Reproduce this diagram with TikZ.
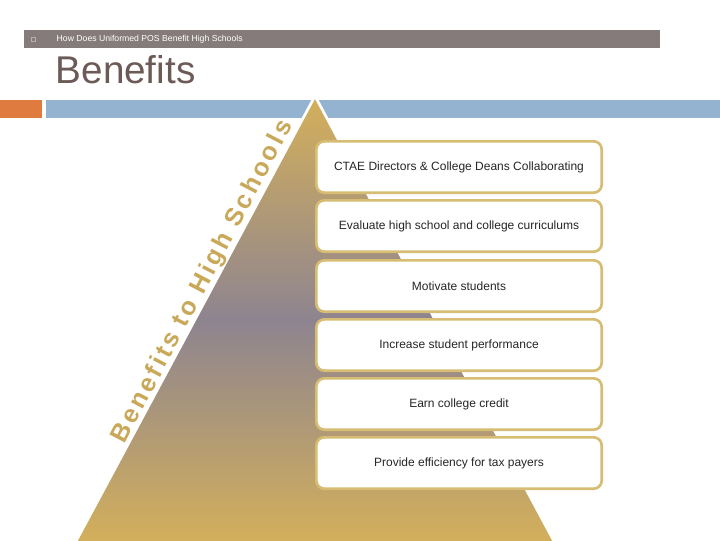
\documentclass[tikz,border=0pt]{standalone}
\usepackage{fontspec}
\setmainfont{Liberation Sans}
\newfontfamily\spaced[LetterSpace=12]{Liberation Sans}
\definecolor{hdr}{HTML}{857B7B}
\definecolor{ttl}{HTML}{6B5A55}
\definecolor{org}{HTML}{E07B3F}
\definecolor{blu}{HTML}{93B3D1}
\definecolor{gld}{HTML}{D4B05A}
\definecolor{mid}{HTML}{8E8490}
\definecolor{bdr}{HTML}{D6BD73}
\definecolor{rot}{HTML}{C9A85A}
\begin{document}
\begin{tikzpicture}[x=0.75pt,y=-0.75pt,
  item/.style={draw=bdr,line width=2pt,fill=white,rounded corners=6pt,minimum width=214pt,minimum height=38.5pt,font=\fontsize{9pt}{11pt}\selectfont,text=black!85,anchor=north west}]
\useasboundingbox (0,0) rectangle (720,540);
\fill[white] (0,0) rectangle (720,540);
\fill[hdr] (24,30) rectangle (660,48);
\draw[hdr!60!white,line width=0.4pt] (31,37) rectangle (35,41);
\node[anchor=west,text=white,font=\fontsize{6.5pt}{7pt}\selectfont] (hd) at (52,39) {How Does Uniformed POS Benefit High Schools};
\node[anchor=west,text=ttl,font=\fontsize{29pt}{32pt}\selectfont] (tt) at (51,70) {Benefits};
\fill[org] (0,100) rectangle (42,118);
\fill[blu] (46,100) rectangle (720,118);
\path[draw=white,line width=2pt,top color=gld,bottom color=gld,middle color=mid] (315,96) -- (74,545) -- (556,545) -- cycle;
\node[rotate=62.3,text=rot,font=\spaced\bfseries\fontsize{19pt}{22pt}\selectfont] (rt) at (203,282) {Benefits to High Schools};
\node[item] (b1) at (315,140) {CTAE Directors \& College Deans Collaborating};
\node[item] (b2) at (315,199) {Evaluate high school and college curriculums};
\node[item] (b3) at (315,259) {Motivate students};
\node[item] (b4) at (315,318) {Increase student performance};
\node[item] (b5) at (315,377) {Earn college credit};
\node[item] (b6) at (315,436) {Provide efficiency for tax payers};
\end{tikzpicture}
\end{document}
